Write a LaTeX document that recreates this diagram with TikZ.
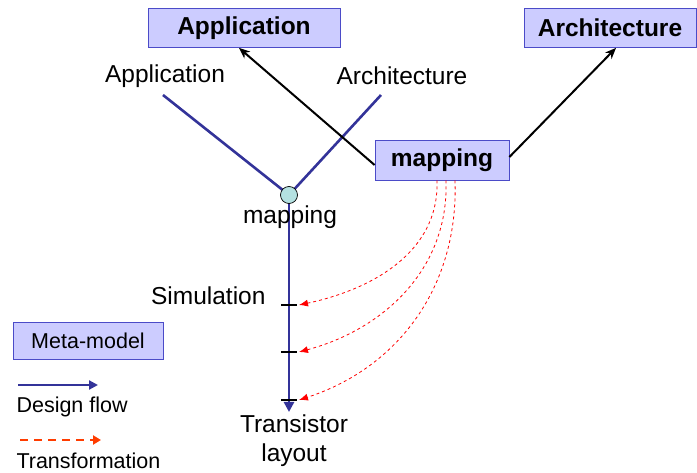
\documentclass[tikz,border=0pt]{standalone}
\usepackage{fontspec}
\setmainfont{Liberation Sans}
\usepackage{tikz}
\usetikzlibrary{arrows.meta}

\definecolor{boxfill}{HTML}{CCCCFF}
\definecolor{boxline}{HTML}{4B4BC8}
\definecolor{flowblue}{HTML}{333399}
\definecolor{dotfill}{HTML}{B4E1E1}

\begin{document}
\begin{tikzpicture}[x=1pt,y=-1pt,
  meta/.style={draw=boxline,fill=boxfill,line width=0.8pt,minimum height=38pt,inner xsep=8pt},
  txt/.style={font=\fontsize{24.5}{29}\selectfont},
  bold/.style={font=\fontsize{24.5}{29}\selectfont\bfseries},
  legtxt/.style={font=\fontsize{21.5}{25}\selectfont},
  flow/.style={draw=flowblue,line width=2.6pt},
  trans/.style={draw=red,dashed,line width=0.8pt,-{Latex[length=9pt,width=7pt]}},
  tick/.style={draw=black,line width=2.2pt}]
\useasboundingbox (0,0) rectangle (697,473);
% meta-model boxes
\node[meta,bold,minimum width=192pt,minimum height=39pt] (appbox) at (244,28) {Application};
\node[meta,bold,minimum width=172pt,minimum height=39pt] (archbox) at (610,28) {Architecture};
\node[meta,bold,minimum width=134pt,minimum height=40pt] (mapbox) at (442,160) {mapping};
\node[meta,legtxt,minimum width=150pt,minimum height=37pt] (legbox) at (88,341) {Meta-model};
% Y-chart
\node[txt] (applbl) at (165,76) {Application};
\node[txt] (archlbl) at (402,76) {Architecture};
\coordinate (dotc) at (289,195);
\coordinate (append) at (163,95);
\coordinate (archend) at (381,95);
\coordinate (flowend) at (289,412);
\draw[flow] (append) -- (dotc);
\draw[flow] (archend) -- (dotc);
\draw[flow,-{Triangle[length=10pt,width=10pt]}] (dotc) -- (flowend);
\node[circle,draw=black,fill=dotfill,minimum size=17pt,inner sep=0pt,line width=0.7pt] (dot) at (dotc) {};
\node[txt] (maplbl) at (290,217) {mapping};
\node[txt,anchor=east] (simlbl) at (269,296) {Simulation};
\node[txt,align=center] (trlbl) at (294,441) {Transistor\\layout};
% ticks
\coordinate (t1) at (289,305);
\coordinate (t2) at (289,352);
\coordinate (t3) at (289,400);
\foreach \t in {t1,t2,t3}
  \draw[tick] ([xshift=-8pt]\t) -- ([xshift=8pt]\t);
% mapping arrows
\draw[line width=2pt,-{Stealth[length=11pt,width=9pt]}] ([yshift=-5pt]mapbox.west) -- (appbox.south -| 239,0);
\draw[line width=2pt,-{Stealth[length=11pt,width=9pt]}] ([yshift=3pt]mapbox.east) -- ([xshift=6pt]archbox.south);
% transformations
\draw[trans] ([xshift=-5pt]mapbox.south) to[out=-88,in=12] ([xshift=10pt]t1);
\draw[trans] ([xshift=4pt]mapbox.south) to[out=-88,in=15] ([xshift=10pt]t2);
\draw[trans] ([xshift=13pt]mapbox.south) to[out=-88,in=18] ([xshift=10pt]t3);
% legend
\coordinate (fl1) at (18,385);
\coordinate (fl2) at (98,385);
\draw[flow,line width=2.2pt,-{Triangle[length=9pt,width=9pt]}] (fl1) -- (fl2);
\node[legtxt,anchor=west] (flowlbl) at (13,407) {Design flow};
\coordinate (tr1) at (20,440);
\coordinate (tr2) at (101,440);
\draw[draw={rgb,255:red,255;green,60;blue,0},line width=2pt,dash pattern=on 8pt off 6pt,-{Triangle[length=8pt,width=9pt]}] (tr1) -- (tr2);
\node[legtxt,anchor=west] (translbl) at (13,461) {Transformation};
\end{tikzpicture}
\end{document}
